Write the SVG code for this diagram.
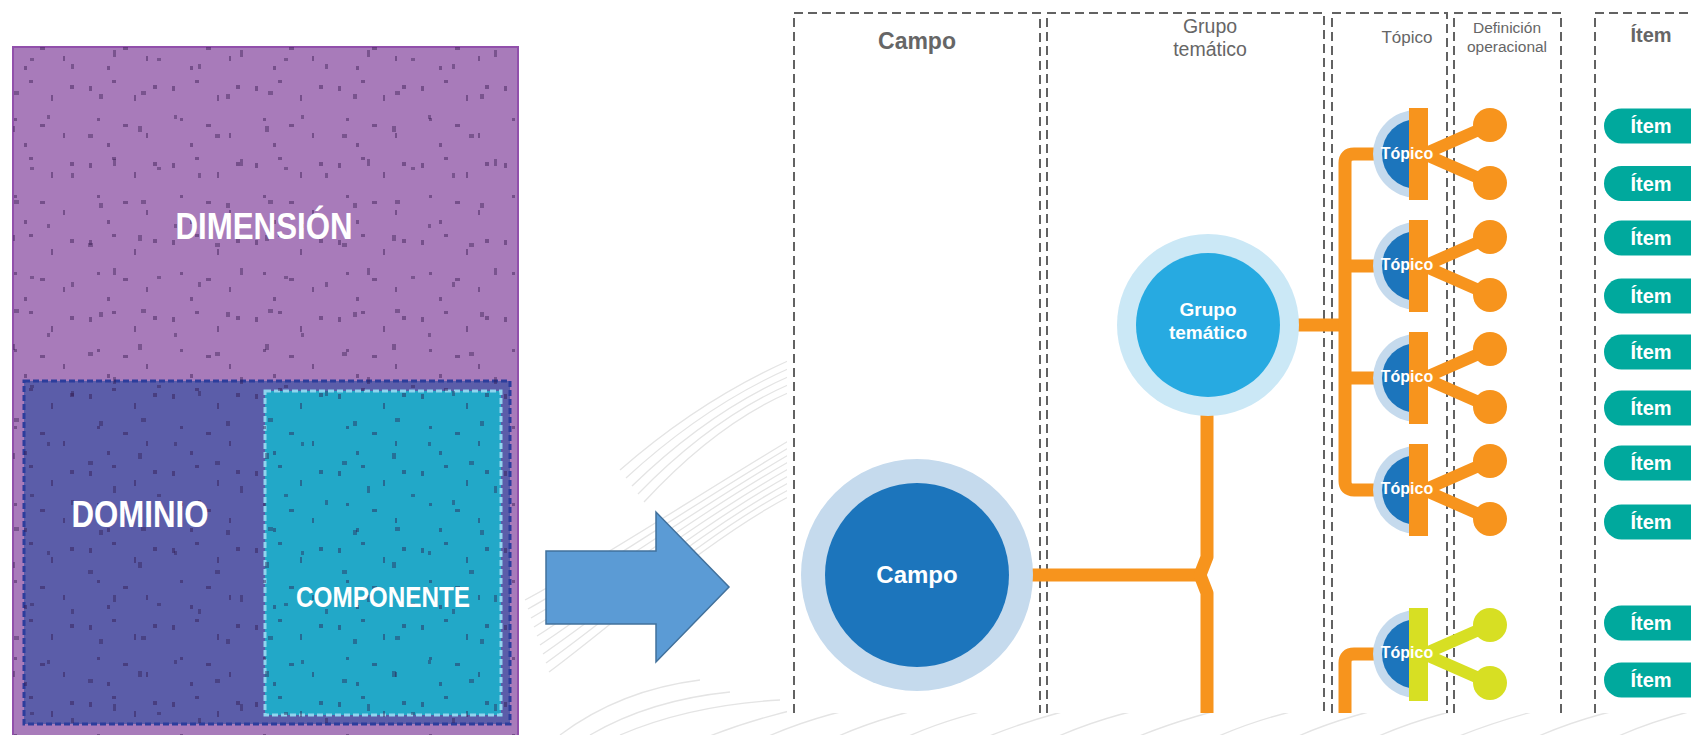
<svg xmlns="http://www.w3.org/2000/svg" width="1691" height="735" viewBox="0 0 1691 735">
<style>
  .t { font-family: "Liberation Sans", Arial, sans-serif; }
  .big { font-weight: bold; fill: #ffffff; text-anchor: middle; }
  .hdr { fill: #666666; text-anchor: middle; }
  .col { fill: none; stroke: #626262; stroke-width: 2; stroke-dasharray: 9 5; }
  .org { fill: none; stroke: #f7941d; stroke-width: 13; stroke-linejoin: round; }
  .ring { fill: #c5daed; }
  .core { fill: #1c75bc; }
  .bar { fill: #f7941d; }
  .spk { stroke: #f7941d; stroke-width: 12; }
  .dot { fill: #f7941d; }
  .bar2 { fill: #d7df23; }
  .spk2 { stroke: #d7df23; stroke-width: 12; }
  .dot2 { fill: #d7df23; }
  .pill { fill: #00a99d; }
  .wm { fill: none; stroke: #e4e4e4; stroke-width: 1.3; }
  .tw { font-weight: bold; fill: #ffffff; text-anchor: middle; font-size: 16px; }
  .it { font-weight: bold; fill: #ffffff; text-anchor: middle; font-size: 20px; }
</style>
<defs>
  <pattern id="spk1" width="83" height="77" patternUnits="userSpaceOnUse">
    <g fill="#2e1447" fill-opacity="0.42">
      <rect x="6" y="9" width="3" height="5"/><rect x="29" y="3" width="4" height="3"/>
      <rect x="51" y="18" width="2" height="6"/><rect x="70" y="8" width="4" height="4"/>
      <rect x="14" y="41" width="3" height="3"/><rect x="40" y="47" width="5" height="3"/>
      <rect x="63" y="56" width="2" height="5"/><rect x="24" y="66" width="3" height="4"/>
    </g>
  </pattern>
  <pattern id="spk2" width="127" height="109" patternUnits="userSpaceOnUse">
    <g fill="#2e1447" fill-opacity="0.38">
      <rect x="11" y="17" width="4" height="6"/><rect x="47" y="6" width="3" height="4"/>
      <rect x="88" y="25" width="5" height="4"/><rect x="113" y="50" width="3" height="7"/>
      <rect x="30" y="58" width="4" height="3"/><rect x="71" y="64" width="3" height="5"/>
      <rect x="14" y="91" width="5" height="4"/><rect x="99" y="94" width="4" height="5"/>
    </g>
  </pattern>
</defs>

<rect x="0" y="0" width="1691" height="735" fill="#ffffff"/>

<!-- faint background watermark -->
<g id="watermark">
  <path class="wm" d="M525 600 C600 560 690 500 790 440"/>
  <path class="wm" d="M528 609 C603 567 692 505 790 447"/>
  <path class="wm" d="M531 618 C606 574 694 510 790 454"/>
  <path class="wm" d="M534 627 C609 581 696 515 790 461"/>
  <path class="wm" d="M537 636 C612 588 698 520 790 468"/>
  <path class="wm" d="M540 645 C615 595 700 525 790 475"/>
  <path class="wm" d="M543 654 C618 602 702 530 790 482"/>
  <path class="wm" d="M546 663 C621 609 704 535 790 489"/>
  <path class="wm" d="M549 672 C624 616 706 540 790 496"/>
  <path class="wm" d="M620 470 Q700 400 790 360"/>
  <path class="wm" d="M626 478 Q704 406 790 368"/>
  <path class="wm" d="M632 486 Q708 412 790 376"/>
  <path class="wm" d="M638 494 Q712 418 790 384"/>
  <path class="wm" d="M644 502 Q716 424 790 392"/>
  <path class="wm" d="M560 735 Q620 690 700 680"/>
  <path class="wm" d="M590 735 Q650 700 730 692"/>
  <path class="wm" d="M620 735 Q690 705 780 700"/>
  <path class="wm" d="M700 740 Q760 715 840 700"/>
  <path class="wm" d="M760 740 Q820 712 900 700"/>
  <path class="wm" d="M830 740 Q880 716 960 700"/>
  <path class="wm" d="M900 740 Q960 712 1040 700"/>
  <path class="wm" d="M980 740 Q1030 718 1110 700"/>
  <path class="wm" d="M1050 740 Q1110 712 1190 700"/>
  <path class="wm" d="M1130 740 Q1180 718 1260 700"/>
  <path class="wm" d="M1210 740 Q1270 712 1350 700"/>
  <path class="wm" d="M1290 740 Q1340 716 1420 700"/>
  <path class="wm" d="M1370 740 Q1430 712 1510 700"/>
  <path class="wm" d="M1450 740 Q1500 718 1580 700"/>
  <path class="wm" d="M1530 740 Q1590 712 1670 700"/>
  <path class="wm" d="M1610 740 Q1660 716 1740 700"/>
</g>

<!-- left block diagram -->
<g id="node-dimension">
  <rect x="13" y="47" width="505" height="700" fill="#a87bba" stroke="#9150ab" stroke-width="2"/>
</g>
<g id="node-dominio">
  <rect x="24" y="381" width="486" height="343" fill="#5b5da9" stroke="#2c3d9c" stroke-width="3" stroke-dasharray="6 3"/>
</g>
<g id="node-componente">
  <rect x="265" y="391" width="236" height="324" fill="#22a8c8" stroke="#90d4ee" stroke-width="3" stroke-dasharray="6 3"/>
</g>
<rect x="13" y="47" width="505" height="700" fill="url(#spk1)"/>
<rect x="13" y="47" width="505" height="700" fill="url(#spk2)"/>
<text class="t big" x="264" y="239" font-size="37" textLength="177" lengthAdjust="spacingAndGlyphs">DIMENSIÓN</text>
<text class="t big" x="140" y="527" font-size="37" textLength="137" lengthAdjust="spacingAndGlyphs">DOMINIO</text>
<text class="t big" x="383" y="607" font-size="29" textLength="174" lengthAdjust="spacingAndGlyphs">COMPONENTE</text>

<!-- big arrow -->
<g id="arrow">
  <polygon points="546,551 656,551 656,512 729,587 656,662 656,624 546,624" fill="#5b9bd5" stroke="#41719c" stroke-width="1.5"/>
</g>

<!-- right diagram background -->
<rect x="787" y="0" width="904" height="713" fill="#ffffff"/>

<!-- columns -->
<g id="col-campo">
  <path class="col" d="M794 713 V13 H1040 V713"/>
  <text class="t hdr" x="917" y="49" font-size="23" font-weight="bold">Campo</text>
</g>
<g id="col-grupo">
  <path class="col" d="M1047 713 V13 H1324 V713"/>
  <text class="t hdr" x="1210" y="33" font-size="19.5">Grupo</text>
  <text class="t hdr" x="1210" y="56" font-size="19.5">temático</text>
</g>
<g id="col-topico">
  <path class="col" d="M1332 713 V13 H1447 V713"/>
  <text class="t hdr" x="1407" y="43" font-size="17">Tópico</text>
</g>
<g id="col-definicion">
  <path class="col" d="M1454 713 V13 H1561 V713"/>
  <text class="t hdr" x="1507" y="33" font-size="15.5">Definición</text>
  <text class="t hdr" x="1507" y="52" font-size="15.5">operacional</text>
</g>
<g id="col-item">
  <path class="col" d="M1595 713 V13 H1700"/>
  <text class="t hdr" x="1651" y="42" font-size="20" font-weight="bold">Ítem</text>
</g>

<!-- connectors -->
<g id="connectors">
  <path class="org" d="M1030 575 H1200"/>
  <path class="org" d="M1207 410 V557 L1200 575 L1207 593 V713"/>
  <path class="org" d="M1295 325 H1345"/>
  <path class="org" d="M1382 154 H1354 Q1345 154 1345 163 V481 Q1345 490 1354 490 H1382"/>
  <path class="org" d="M1345 266 H1382"/>
  <path class="org" d="M1345 378 H1382"/>
  <path class="org" d="M1382 654 H1354 Q1345 654 1345 663 V713"/>
</g>

<!-- nodes -->
<g id="node-campo-circle">
  <circle cx="917" cy="575" r="116" fill="#c5daed"/>
  <circle cx="917" cy="575" r="92" fill="#1c75bc"/>
  <text class="t big" x="917" y="583" font-size="24">Campo</text>
</g>
<g id="node-grupo">
  <circle cx="1208" cy="325" r="91" fill="#cbe8f6"/>
  <circle cx="1208" cy="325" r="72" fill="#27aae1"/>
  <text class="t big" x="1208" y="316" font-size="19">Grupo</text>
  <text class="t big" x="1208" y="339" font-size="19">temático</text>
</g>

<g id="topico-1">
  <path class="ring" d="M1417 110 A44 44 0 0 0 1417 198 Z"/>
  <path class="core" d="M1417 119 A35 35 0 0 0 1417 189 Z"/>
  <line class="spk" x1="1424" y1="154" x2="1490" y2="125"/>
  <line class="spk" x1="1424" y1="154" x2="1490" y2="183"/>
  <rect class="bar" x="1409" y="108" width="19" height="92"/>
  <circle class="dot" cx="1490" cy="125" r="17"/>
  <circle class="dot" cx="1490" cy="183" r="17"/>
  <text class="t tw" x="1407" y="159">Tópico</text>
</g>
<g id="topico-2">
  <path class="ring" d="M1417 222 A44 44 0 0 0 1417 310 Z"/>
  <path class="core" d="M1417 231 A35 35 0 0 0 1417 301 Z"/>
  <line class="spk" x1="1424" y1="266" x2="1490" y2="237"/>
  <line class="spk" x1="1424" y1="266" x2="1490" y2="295"/>
  <rect class="bar" x="1409" y="220" width="19" height="92"/>
  <circle class="dot" cx="1490" cy="237" r="17"/>
  <circle class="dot" cx="1490" cy="295" r="17"/>
  <text class="t tw" x="1407" y="270">Tópico</text>
</g>
<g id="topico-3">
  <path class="ring" d="M1417 334 A44 44 0 0 0 1417 422 Z"/>
  <path class="core" d="M1417 343 A35 35 0 0 0 1417 413 Z"/>
  <line class="spk" x1="1424" y1="378" x2="1490" y2="349"/>
  <line class="spk" x1="1424" y1="378" x2="1490" y2="407"/>
  <rect class="bar" x="1409" y="332" width="19" height="92"/>
  <circle class="dot" cx="1490" cy="349" r="17"/>
  <circle class="dot" cx="1490" cy="407" r="17"/>
  <text class="t tw" x="1407" y="382">Tópico</text>
</g>
<g id="topico-4">
  <path class="ring" d="M1417 446 A44 44 0 0 0 1417 534 Z"/>
  <path class="core" d="M1417 455 A35 35 0 0 0 1417 525 Z"/>
  <line class="spk" x1="1424" y1="490" x2="1490" y2="461"/>
  <line class="spk" x1="1424" y1="490" x2="1490" y2="519"/>
  <rect class="bar" x="1409" y="444" width="19" height="92"/>
  <circle class="dot" cx="1490" cy="461" r="17"/>
  <circle class="dot" cx="1490" cy="519" r="17"/>
  <text class="t tw" x="1407" y="494">Tópico</text>
</g>
<g id="topico-5">
  <path class="ring" d="M1417 610 A44 44 0 0 0 1417 698 Z"/>
  <path class="core" d="M1417 619 A35 35 0 0 0 1417 689 Z"/>
  <line class="spk2" x1="1424" y1="654" x2="1490" y2="625"/>
  <line class="spk2" x1="1424" y1="654" x2="1490" y2="683"/>
  <rect class="bar2" x="1409" y="608" width="19" height="93"/>
  <circle class="dot2" cx="1490" cy="625" r="17"/>
  <circle class="dot2" cx="1490" cy="683" r="17"/>
  <text class="t tw" x="1407" y="658">Tópico</text>
</g>

<!-- items -->
<g id="item-1"><rect class="pill" x="1604" y="108.5" width="120" height="35" rx="17.5"/><text class="t it" x="1651" y="133">Ítem</text></g>
<g id="item-2"><rect class="pill" x="1604" y="166" width="120" height="35" rx="17.5"/><text class="t it" x="1651" y="190.5">Ítem</text></g>
<g id="item-3"><rect class="pill" x="1604" y="220.5" width="120" height="35" rx="17.5"/><text class="t it" x="1651" y="245">Ítem</text></g>
<g id="item-4"><rect class="pill" x="1604" y="278.5" width="120" height="35" rx="17.5"/><text class="t it" x="1651" y="303">Ítem</text></g>
<g id="item-5"><rect class="pill" x="1604" y="334.5" width="120" height="35" rx="17.5"/><text class="t it" x="1651" y="359">Ítem</text></g>
<g id="item-6"><rect class="pill" x="1604" y="390.5" width="120" height="35" rx="17.5"/><text class="t it" x="1651" y="415">Ítem</text></g>
<g id="item-7"><rect class="pill" x="1604" y="445.5" width="120" height="35" rx="17.5"/><text class="t it" x="1651" y="470">Ítem</text></g>
<g id="item-8"><rect class="pill" x="1604" y="504.5" width="120" height="35" rx="17.5"/><text class="t it" x="1651" y="529">Ítem</text></g>
<g id="item-9"><rect class="pill" x="1604" y="605.5" width="120" height="35" rx="17.5"/><text class="t it" x="1651" y="630">Ítem</text></g>
<g id="item-10"><rect class="pill" x="1604" y="662.5" width="120" height="35" rx="17.5"/><text class="t it" x="1651" y="687">Ítem</text></g>
</svg>
